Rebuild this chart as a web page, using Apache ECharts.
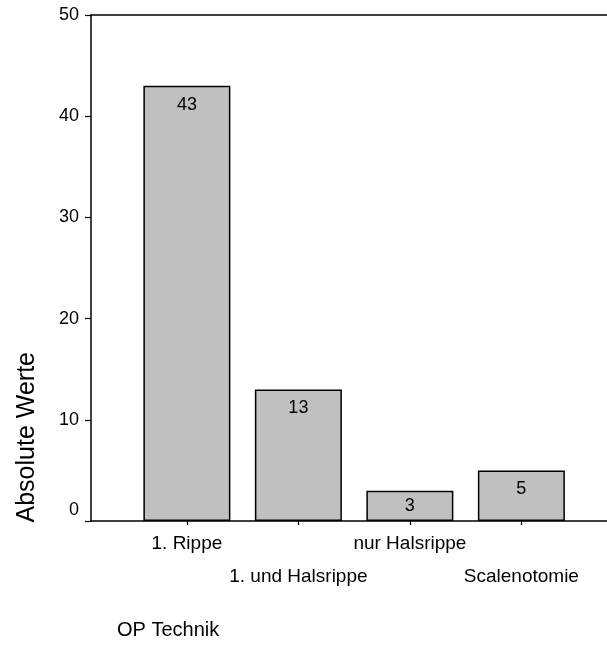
<!DOCTYPE html>
<html>
<head>
<meta charset="utf-8">
<script src="https://cdn.jsdelivr.net/npm/echarts@6/dist/echarts.min.js"></script>
<style>html,body{margin:0;padding:0;background:#fff}#c{width:607px;height:653px}</style>
</head>
<body>
<div id="c"></div>
<script>
var categories = ['1. Rippe', '1. und Halsrippe', 'nur Halsrippe', 'Scalenotomie'];
var values = [43, 13, 3, 5];
var yTicks = [0, 10, 20, 30, 40, 50];
var yTitle = 'Absolute Werte';
var xTitle = 'OP Technik';

var FONT = '"Liberation Sans", Arial, sans-serif';
var chart = echarts.init(document.getElementById('c'));
var idx = categories.map(function (c, i) { return i; });
var evenIdx = idx.filter(function (i) { return i % 2 === 0; });
var oddIdx = idx.filter(function (i) { return i % 2 === 1; });
var barData = values.map(function (v, i) {
  var item = { value: [i, v] };
  if (v < 4) item.label = { position: 'inside' };
  return item;
});
var XMIN = -0.86, XMAX = 3.768;
function catLabel(v) { return categories[Math.round(v)]; }
var labelStyle = { fontFamily: FONT, fontSize: 19, color: '#000' };
chart.setOption({
  animation: false,
  title: {
    text: xTitle, left: 117, top: 620, padding: 0,
    textStyle: { fontFamily: FONT, fontSize: 20, fontWeight: 'normal', color: '#000' }
  },
  graphic: [{
    type: 'text', left: 15, top: 352, rotation: Math.PI / 2,
    style: { text: yTitle, font: '25px ' + FONT, fill: '#000' }
  }],
  grid: { left: 91, right: 0, top: 15, bottom: 132, containLabel: false },
  xAxis: [{
    type: 'value', min: XMIN, max: XMAX, position: 'bottom',
    splitLine: { show: false },
    axisLine: { show: true, onZero: false, lineStyle: { color: '#000', width: 1.5 } },
    axisTick: { show: true, length: 4, customValues: idx, lineStyle: { color: '#000', width: 1.2 } },
    axisLabel: Object.assign({
      show: true, customValues: evenIdx, margin: 13, hideOverlap: false,
      showMinLabel: true, showMaxLabel: true, formatter: catLabel
    }, labelStyle)
  }, {
    type: 'value', min: XMIN, max: XMAX, position: 'bottom',
    splitLine: { show: false },
    axisLine: { show: false, onZero: false },
    axisTick: { show: false },
    axisLabel: Object.assign({
      show: true, customValues: oddIdx, margin: 46, hideOverlap: false,
      showMinLabel: true, showMaxLabel: true, formatter: catLabel
    }, labelStyle)
  }, {
    type: 'value', min: XMIN, max: XMAX, position: 'top',
    splitLine: { show: false },
    axisLine: { show: true, onZero: false, lineStyle: { color: '#000', width: 1.5 } },
    axisTick: { show: false }, axisLabel: { show: false }
  }],
  yAxis: {
    type: 'value', min: 0, max: 50, interval: 10,
    splitLine: { show: false },
    axisLine: { show: true, onZero: false, lineStyle: { color: '#000', width: 1.5 } },
    axisTick: { show: true, length: 6, lineStyle: { color: '#000', width: 1.2 } },
    axisLabel: {
      margin: 12, fontFamily: FONT, fontSize: 18, color: '#000',
      showMinLabel: true, showMaxLabel: true,
      formatter: function (v) { return v === 0 ? '{z|0}' : String(v); },
      rich: { z: { fontFamily: FONT, fontSize: 18, color: '#000', padding: [0, 0, 21, 0] } }
    }
  },
  series: [{
    type: 'bar', xAxisIndex: 0, barWidth: 87,
    data: barData,
    itemStyle: { color: '#c0c0c0', borderColor: '#000', borderWidth: 1.5 },
    label: {
      show: true, position: 'insideTop', distance: 10,
      fontFamily: FONT, fontSize: 18, color: '#000',
      formatter: function (p) { return p.value[1]; }
    }
  }]
});
</script>
</body>
</html>
